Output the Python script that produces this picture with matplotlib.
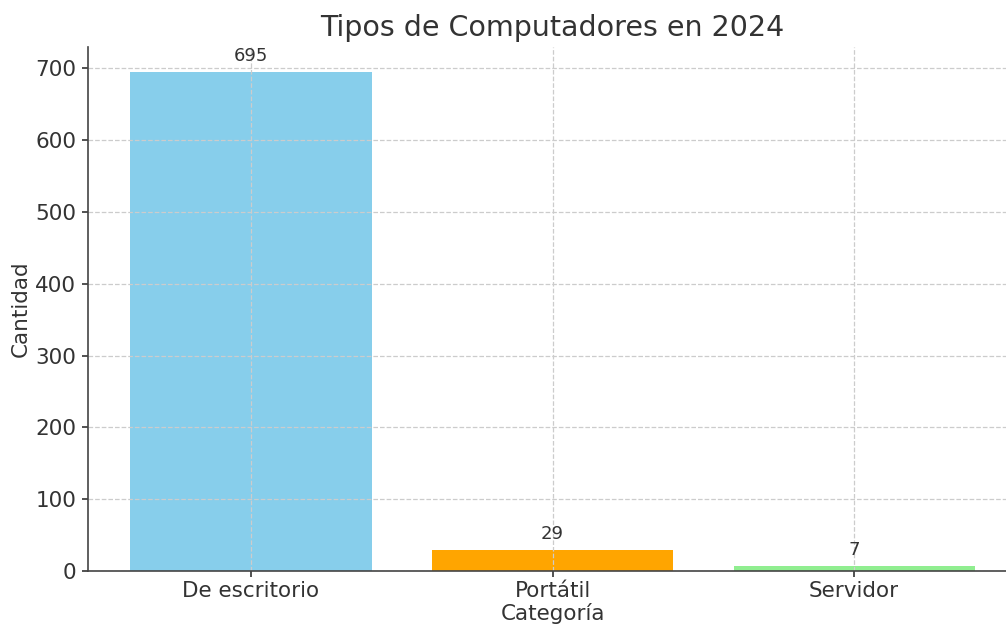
import matplotlib
matplotlib.use("Agg")
import matplotlib.pyplot as plt

categories = ["De escritorio", "Portátil", "Servidor"]
counts = [695, 29, 7]
colors = ["skyblue", "orange", "lightgreen"]

text_color = "#333333"

fig = plt.figure(figsize=(10.06, 6.25), dpi=100)
# axes extend a little past the right edge, like the cropped original
ax = fig.add_axes([0.0875, 0.0864, 0.9235, 0.8384])

bars = ax.bar(categories, counts, color=colors)

for bar, val in zip(bars, counts):
    ax.annotate(str(val),
                (bar.get_x() + bar.get_width() / 2, bar.get_height()),
                xytext=(0, 5), textcoords="offset points",
                ha="center", va="bottom", fontsize=13, color=text_color)

ax.grid(True, linestyle="--", color="#cccccc", linewidth=0.9)
ax.spines["top"].set_visible(False)
ax.spines["right"].set_visible(False)
for side in ("left", "bottom"):
    ax.spines[side].set_color("#444444")
    ax.spines[side].set_linewidth(1.2)
ax.tick_params(labelsize=15.5, colors=text_color, length=4.5, width=1.2, pad=4)
ax.tick_params(axis="x", pad=2.5)

ax.set_title("Tipos de Computadores en 2024", fontsize=20.5, color=text_color, pad=8)
ax.set_xlabel("Categoría", fontsize=15.5, color=text_color, labelpad=2)
ax.set_ylabel("Cantidad", fontsize=15.5, color=text_color, labelpad=3)

fig.savefig("out.png", dpi=100)
